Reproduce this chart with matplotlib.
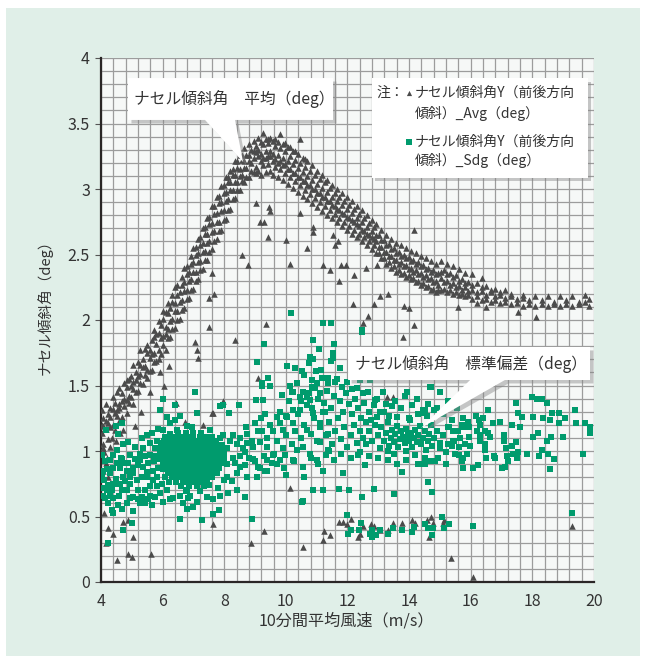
import matplotlib.pyplot as plt
import matplotlib.patches as patches
import matplotlib.patheffects as pe
import numpy as np

plt.rcParams['font.family'] = ['Noto Sans CJK JP', 'DejaVu Sans']

# ---- Avg (triangles): main band, x -> list of y ----
avg_band_x = [4.02, 4.08, 4.15, 4.22, 4.30, 4.38, 4.45, 4.52, 4.60, 4.68, 4.75, 4.83, 4.90, 4.98,
              5.05, 5.12, 5.20, 5.28, 5.35, 5.42, 5.50, 5.58, 5.65, 5.72, 5.80, 5.88, 5.95,
              6.02, 6.10, 6.18, 6.25, 6.32, 6.40, 6.48, 6.55, 6.62, 6.70, 6.78, 6.85, 6.92,
              7.00, 7.08, 7.15, 7.22, 7.30, 7.38, 7.45, 7.52, 7.60, 7.68, 7.75, 7.82, 7.90, 7.98,
              8.05, 8.12, 8.20, 8.28, 8.35, 8.42, 8.50, 8.58, 8.65, 8.72, 8.80, 8.88, 8.95,
              9.02, 9.10, 9.18, 9.26, 9.34, 9.42, 9.50, 9.58, 9.66, 9.74, 9.82, 9.90, 9.98,
              10.06, 10.14, 10.22, 10.30, 10.38, 10.46, 10.54, 10.62, 10.70, 10.78, 10.86, 10.94,
              11.02, 11.10, 11.18, 11.26, 11.34, 11.42, 11.50, 11.58, 11.66, 11.74, 11.82, 11.90, 11.98,
              12.06, 12.14, 12.22, 12.30, 12.38, 12.46, 12.54, 12.62, 12.70, 12.78, 12.86, 12.94,
              13.02, 13.10, 13.18, 13.26, 13.34, 13.42, 13.50, 13.58, 13.66, 13.74, 13.82, 13.90, 13.98,
              14.06, 14.14, 14.22, 14.30, 14.38, 14.46, 14.54, 14.62, 14.70, 14.78, 14.86, 14.94,
              15.02, 15.12, 15.22, 15.32, 15.42, 15.52, 15.62, 15.72, 15.82, 15.92,
              16.05, 16.20, 16.35, 16.50, 16.65, 16.80, 16.95, 17.10, 17.30, 17.50, 17.70, 17.90,
              18.10, 18.30, 18.50, 18.70, 18.90, 19.10, 19.30, 19.50, 19.70, 19.85]
avg_band_y = [
    [1.14, 1.20, 1.31], [1.05, 1.19, 1.25], [1.17, 1.23, 1.36], [1.09, 1.21, 1.28],
    [1.18, 1.26, 1.33], [1.20, 1.32, 1.41], [1.16, 1.29, 1.37], [1.27, 1.31, 1.45],
    [1.23, 1.33, 1.36, 1.48], [1.26, 1.38, 1.44], [1.34, 1.40, 1.52], [1.29, 1.39, 1.49, 1.54],
    [1.37, 1.42, 1.55], [1.41, 1.50, 1.57],
    [1.36, 1.47, 1.53, 1.66], [1.45, 1.54, 1.60], [1.46, 1.57, 1.68], [1.52, 1.59, 1.66, 1.77],
    [1.51, 1.64, 1.70], [1.58, 1.65, 1.78], [1.56, 1.62, 1.75, 1.81], [1.61, 1.71, 1.77],
    [1.62, 1.74, 1.85], [1.68, 1.75, 1.87, 1.92], [1.69, 1.82, 1.89], [1.70, 1.77, 1.90, 1.99],
    [1.74, 1.86, 1.96],
    [1.81, 1.88, 2.01, 2.07], [1.77, 1.89, 1.95, 2.06], [1.86, 1.93, 2.05, 2.13], [1.87, 1.99, 2.09],
    [1.93, 2.01, 2.14, 2.19], [1.94, 2.07, 2.13, 2.25], [2.00, 2.07, 2.19, 2.27], [2.01, 2.14, 2.21],
    [2.08, 2.15, 2.27, 2.33], [2.09, 2.22, 2.29, 2.40], [2.16, 2.23, 2.35, 2.41], [2.17, 2.30, 2.37],
    [2.23, 2.31, 2.43, 2.49],
    [2.24, 2.37, 2.44, 2.55], [2.30, 2.37, 2.50, 2.56], [2.31, 2.44, 2.51, 2.62], [2.38, 2.45, 2.57, 2.63],
    [2.39, 2.52, 2.59, 2.70], [2.46, 2.53, 2.66, 2.71], [2.46, 2.59, 2.66, 2.78], [2.52, 2.60, 2.73, 2.79],
    [2.54, 2.67, 2.74, 2.87], [2.60, 2.68, 2.81, 2.87], [2.62, 2.75, 2.82, 2.94], [2.68, 2.75, 2.89, 2.95],
    [2.69, 2.83, 2.90, 3.02], [2.76, 2.84, 2.97, 3.03],
    [2.77, 2.91, 2.98, 3.09], [2.84, 2.92, 3.05, 3.09], [2.85, 2.99, 3.05, 3.14], [2.92, 2.99, 3.11, 3.15],
    [2.93, 3.05, 3.11, 3.21], [2.99, 3.05, 3.16, 3.21], [2.99, 3.10, 3.15, 3.26], [3.06, 3.11, 3.22, 3.26],
    [3.05, 3.16, 3.21, 3.31], [3.09, 3.16, 3.26], [3.09, 3.21, 3.26, 3.34], [3.14, 3.20, 3.30],
    [3.13, 3.24, 3.29, 3.37],
    [3.12, 3.17, 3.28, 3.33], [3.14, 3.25, 3.30, 3.39], [3.11, 3.21, 3.27, 3.36], [3.18, 3.24, 3.34, 3.43],
    [3.13, 3.24, 3.29, 3.38], [3.19, 3.25, 3.35, 3.38], [3.14, 3.25, 3.29, 3.39], [3.11, 3.21, 3.27, 3.37],
    [3.17, 3.23, 3.33, 3.38], [3.09, 3.20, 3.26, 3.36], [3.15, 3.21, 3.31, 3.42], [3.07, 3.18, 3.24, 3.34],
    [3.12, 3.19, 3.29, 3.35],
    [3.04, 3.15, 3.21, 3.32], [3.09, 3.15, 3.25, 3.32], [3.01, 3.12, 3.19, 3.29], [3.06, 3.12, 3.22, 3.29],
    [2.98, 3.09, 3.16, 3.27], [3.03, 3.09, 3.20, 3.38], [2.95, 3.06, 3.13, 3.24], [2.99, 3.06, 3.17, 3.23],
    [2.92, 3.03, 3.10, 3.21], [2.96, 3.03, 3.14], [2.89, 3.00, 3.07, 3.18], [2.93, 3.00, 3.11],
    [2.86, 2.97, 3.04, 3.14], [2.90, 2.97, 3.08], [2.83, 2.94, 3.01, 3.11], [2.87, 2.94, 3.05],
    [2.80, 2.91, 2.98, 3.07], [2.84, 2.91, 3.01], [2.78, 2.88, 2.94, 3.03], [2.81, 2.87, 2.97],
    [2.75, 2.85, 2.91, 3.00], [2.78, 2.84, 2.94], [2.72, 2.82, 2.88, 2.97], [2.75, 2.81, 2.91],
    [2.69, 2.79, 2.85, 2.94],
    [2.72, 2.78, 2.88], [2.66, 2.76, 2.82, 2.91], [2.69, 2.75, 2.85], [2.63, 2.73, 2.78, 2.87],
    [2.66, 2.72, 2.81], [2.60, 2.69, 2.75, 2.84], [2.63, 2.68, 2.78], [2.57, 2.66, 2.71, 2.80],
    [2.60, 2.65, 2.74], [2.54, 2.63, 2.68, 2.76], [2.57, 2.62, 2.71], [2.51, 2.60, 2.65, 2.73],
    [2.51, 2.56, 2.65], [2.47, 2.56, 2.61, 2.69], [2.47, 2.52, 2.61], [2.43, 2.52, 2.57, 2.65],
    [2.44, 2.49, 2.58], [2.40, 2.49, 2.54, 2.62], [2.41, 2.46, 2.55], [2.37, 2.46, 2.51, 2.59],
    [2.38, 2.43, 2.52], [2.35, 2.44, 2.49, 2.57], [2.36, 2.41, 2.50], [2.33, 2.42, 2.47, 2.55],
    [2.34, 2.39, 2.48],
    [2.31, 2.40, 2.45, 2.53], [2.32, 2.37, 2.46], [2.29, 2.38, 2.43, 2.51], [2.30, 2.35, 2.44],
    [2.27, 2.36, 2.41, 2.49], [2.28, 2.33, 2.42], [2.25, 2.34, 2.39, 2.47], [2.26, 2.31, 2.40],
    [2.23, 2.32, 2.37, 2.45], [2.24, 2.29, 2.38], [2.21, 2.30, 2.35, 2.43], [2.23, 2.27, 2.36],
    [2.23, 2.32, 2.37, 2.45], [2.24, 2.29, 2.38], [2.21, 2.30, 2.35, 2.43], [2.23, 2.27, 2.36],
    [2.20, 2.28, 2.33, 2.41], [2.21, 2.25, 2.34], [2.19, 2.26, 2.30, 2.39], [2.20, 2.23, 2.31],
    [2.18, 2.25, 2.28, 2.36], [2.19, 2.22, 2.29],
    [2.16, 2.23, 2.27, 2.35], [2.18, 2.21, 2.28], [2.15, 2.22, 2.25, 2.32], [2.16, 2.19, 2.26],
    [2.14, 2.21, 2.23], [2.15, 2.18, 2.24], [2.13, 2.19, 2.21], [2.14, 2.17, 2.23],
    [2.12, 2.18, 2.20], [2.13, 2.16], [2.11, 2.17, 2.19], [2.12, 2.15],
    [2.11, 2.18], [2.12, 2.15], [2.11, 2.18], [2.12, 2.14], [2.11, 2.18], [2.12, 2.15],
    [2.11, 2.18], [2.12, 2.14], [2.14, 2.19], [2.11, 2.16]]

# ---- Avg outliers (x, y) ----
avg_scatter = [(9.16, 2.75), (9.29, 2.75), (9.42, 2.63), (10.0, 2.61), (8.58, 2.50), (8.77, 2.42),
               (10.13, 2.43), (10.69, 2.55), (11.2, 2.42), (11.43, 2.38), (11.72, 2.30), (11.8, 2.42),
               (11.95, 2.42), (12.2, 2.34), (12.6, 2.40), (12.96, 2.42), (13.05, 2.18), (13.3, 2.20),
               (9.45, 2.86), (9.49, 2.83), (10.46, 2.82), (10.88, 2.71), (10.88, 2.67), (11.53, 2.65),
               (11.6, 2.57), (11.69, 2.60), (9.03, 2.89), (7.5, 1.95), (7.67, 2.20), (7.5, 2.17),
               (7.6, 2.36), (7.05, 1.83), (7.12, 1.77), (7.15, 1.71), (8.35, 1.85), (9.36, 1.97),
               (9.1, 1.56), (7.6, 1.29), (12.18, 2.12), (12.86, 2.12), (13.83, 2.11), (14.0, 2.09),
               (12.67, 2.03), (12.5, 1.98), (14.16, 1.96), (13.8, 1.87), (12.76, 1.76), (13.28, 1.41),
               (13.48, 1.41), (10.13, 0.72), (14.16, 2.69), (15.59, 2.10), (16.5, 2.10), (17.53, 2.06),
               (18.12, 2.02), (16.2, 2.13), (7.96, 1.38), (6.43, 1.37), (6.73, 1.22), (7.63, 1.29),
               (7.3, 1.20), (5.3, 1.30), (5.6, 1.45), (5.9, 1.60), (6.2, 1.65), (6.05, 1.50)]
avg_left = [(4.1, 0.99), (4.2, 0.95), (4.3, 1.03), (4.15, 0.91), (4.22, 0.80), (4.62, 1.14),
            (4.71, 1.16), (5.1, 1.19), (4.05, 0.85), (4.35, 1.10), (4.5, 1.08), (4.06, 1.02)]
avg_low = [(10.55, 0.27), (11.2, 0.32), (11.24, 0.39), (11.43, 0.36), (11.72, 0.46), (11.85, 0.46),
           (11.98, 0.44), (12.1, 0.48), (12.35, 0.34), (12.4, 0.37), (12.5, 0.43), (12.76, 0.44),
           (12.86, 0.43), (13.06, 0.40), (13.3, 0.40), (13.48, 0.45), (13.77, 0.45), (14.1, 0.47),
           (14.2, 0.45), (14.58, 0.47), (14.7, 0.50), (14.77, 0.45), (14.65, 0.34), (15.1, 0.45),
           (15.13, 0.47), (15.36, 0.18), (16.07, 0.04), (19.29, 0.43), (4.1, 0.53), (4.16, 0.30),
           (4.23, 0.41), (4.39, 0.37), (4.52, 0.17), (4.71, 0.46), (4.88, 0.47), (4.88, 0.21),
           (5.0, 0.19), (5.04, 0.34), (5.62, 0.21), (7.64, 0.44), (9.29, 0.39), (8.87, 0.30)]

# ---- Sdg (squares): dense core rows, y -> list of x ----
sdg_core_y = [1.14, 1.11, 1.08, 1.045, 1.01, 0.975, 0.94, 0.905, 0.87, 0.835, 0.80, 0.765, 0.73, 0.695]
sdg_core_x = [
    [6.5, 6.75, 7.0, 7.25],
    [6.2, 6.4, 6.6, 6.8, 7.0, 7.2, 7.4, 7.6],
    [6.05, 6.2, 6.35, 6.5, 6.65, 6.8, 6.95, 7.1, 7.25, 7.4, 7.55, 7.72],
    [5.95, 6.1, 6.25, 6.4, 6.55, 6.7, 6.85, 7.0, 7.15, 7.3, 7.45, 7.6, 7.75, 7.92],
    [5.9, 6.08, 6.22, 6.36, 6.5, 6.64, 6.78, 6.92, 7.06, 7.2, 7.34, 7.48, 7.62, 7.78, 7.95],
    [5.95, 6.12, 6.26, 6.4, 6.54, 6.68, 6.82, 6.96, 7.1, 7.24, 7.38, 7.52, 7.66, 7.82, 8.0],
    [5.92, 6.1, 6.24, 6.38, 6.52, 6.66, 6.8, 6.94, 7.08, 7.22, 7.36, 7.5, 7.64, 7.8, 7.98],
    [6.0, 6.16, 6.3, 6.44, 6.58, 6.72, 6.86, 7.0, 7.14, 7.28, 7.42, 7.56, 7.72, 7.9],
    [6.08, 6.24, 6.38, 6.52, 6.66, 6.8, 6.94, 7.08, 7.22, 7.36, 7.5, 7.66, 7.84],
    [6.18, 6.34, 6.48, 6.62, 6.76, 6.9, 7.04, 7.18, 7.32, 7.46, 7.62, 7.78],
    [6.3, 6.46, 6.62, 6.78, 6.94, 7.1, 7.26, 7.42, 7.6],
    [6.45, 6.65, 6.85, 7.05, 7.25, 7.45],
    [6.6, 6.85, 7.1, 7.35],
    [6.75, 7.2]]

sdg_left = [(4.13, 0.92), (4.10, 0.78), (4.18, 0.70), (4.29, 0.66), (4.13, 0.64), (4.24, 0.60),
            (4.40, 0.64), (4.56, 0.59), (4.35, 0.55), (4.51, 0.75), (4.67, 0.70), (4.78, 0.77),
            (4.94, 0.80), (4.83, 0.85), (4.62, 0.87), (4.40, 0.87), (5.05, 0.87), (5.27, 0.93),
            (5.43, 0.96), (5.59, 0.97), (4.83, 0.70), (4.94, 0.64), (5.21, 0.63), (5.32, 0.65),
            (5.54, 0.63), (5.59, 0.66), (5.43, 0.70), (5.21, 0.70), (5.05, 0.65), (4.64, 0.95),
            (4.53, 1.01), (4.40, 0.97), (4.72, 1.05), (4.89, 1.07), (5.10, 1.03), (5.32, 1.10),
            (5.48, 1.12), (5.64, 1.14), (5.86, 1.17), (6.02, 1.16), (6.24, 1.21), (6.13, 1.26),
            (6.40, 1.24), (6.56, 1.27), (4.67, 1.21), (4.49, 1.19), (4.56, 1.13), (5.37, 1.02),
            (5.75, 1.02), (4.29, 0.83), (4.08, 0.85), (4.49, 0.79), (4.94, 0.75), (5.16, 0.78),
            (5.32, 0.80), (5.48, 0.80), (5.59, 0.73), (5.81, 0.73), (5.81, 0.80), (5.97, 0.75),
            (5.86, 0.87), (6.08, 0.80), (4.67, 0.94), (5.10, 0.94), (4.16, 1.16), (4.40, 0.75),
            (4.10, 0.72), (4.24, 0.74), (4.83, 0.60), (4.67, 0.56), (5.27, 0.60), (5.43, 0.60),
            (5.75, 0.65), (5.64, 0.59), (5.92, 0.68), (6.13, 0.70), (6.35, 0.64), (6.56, 0.66),
            (6.78, 0.70), (4.72, 0.91), (4.89, 0.91), (5.21, 0.89), (5.37, 0.88), (5.54, 0.91),
            (4.51, 0.91), (4.29, 0.93), (4.94, 0.97), (5.27, 0.98), (5.05, 0.83), (4.72, 0.80),
            (5.48, 0.84), (5.70, 0.85), (4.62, 0.75), (5.59, 1.06), (5.81, 1.08), (5.97, 1.06),
            (6.08, 1.11), (6.24, 1.13), (6.46, 1.16), (6.78, 1.19), (7.0, 1.13), (7.11, 1.29),
            (7.05, 1.45), (6.02, 1.40), (6.40, 1.35), (5.92, 1.31), (4.04, 0.97), (4.04, 0.82),
            (4.05, 0.66), (4.2, 0.86), (4.35, 0.70), (4.58, 0.66), (5.72, 0.92), (5.68, 0.78),
            (5.8, 0.96), (7.55, 1.16), (7.85, 1.1), (8.08, 0.9), (8.1, 1.02), (7.98, 0.78),
            (7.8, 0.72), (6.95, 1.18), (6.2, 0.76), (6.0, 0.86), (7.52, 0.74), (6.88, 0.66)]

sdg_mid = [(7.86, 1.34), (7.97, 1.35), (8.49, 1.35), (8.17, 1.29), (7.97, 1.12), (8.3, 1.12),
           (8.51, 1.10), (8.73, 1.06), (8.94, 1.03), (9.16, 1.07), (9.38, 1.03), (8.73, 1.13),
           (8.99, 1.21), (9.32, 1.28), (9.70, 1.26), (9.81, 1.21), (10.03, 1.26), (9.92, 1.16),
           (9.59, 1.15), (9.22, 1.15), (8.67, 0.99), (8.94, 0.94), (8.51, 0.96), (8.35, 0.91),
           (8.67, 0.89), (8.40, 0.83), (8.73, 0.80), (9.05, 0.80), (9.16, 0.87), (9.38, 0.93),
           (9.59, 0.97), (9.32, 0.85), (9.54, 0.91), (9.81, 0.93), (9.97, 0.97), (10.24, 0.93),
           (10.35, 1.01), (10.57, 1.03), (10.78, 0.98), (11.0, 0.93), (8.40, 0.70), (8.13, 0.68),
           (8.24, 0.77), (8.08, 0.80), (8.67, 0.65), (11.11, 1.44), (10.78, 1.39), (10.46, 1.41),
           (10.24, 1.45), (9.86, 1.43), (9.22, 1.50), (9.49, 1.50), (10.14, 1.50), (10.84, 1.49),
           (11.38, 1.52), (10.89, 1.29), (10.46, 1.31), (10.24, 1.21), (10.68, 1.16), (11.11, 1.21),
           (11.27, 1.30), (11.38, 1.13), (11.38, 1.01), (11.11, 1.07),
           (12.5, 1.10), (12.6, 1.05), (12.7, 1.15), (12.8, 1.08), (12.9, 1.20), (13.0, 1.12),
           (13.05, 1.02), (13.1, 1.18), (13.2, 1.08), (13.25, 1.14), (13.3, 1.22), (13.35, 1.04),
           (13.4, 1.10), (13.45, 1.16), (13.5, 1.07), (13.55, 1.13), (13.6, 1.19), (13.65, 1.03),
           (13.7, 1.09), (13.75, 1.15), (13.8, 1.11), (13.85, 1.06), (13.9, 1.17), (13.95, 1.12),
           (14.0, 1.08), (14.05, 1.14), (14.1, 1.03), (14.15, 1.10), (14.2, 1.16), (14.25, 1.07),
           (14.3, 1.12), (14.35, 1.19), (14.4, 1.05), (14.45, 1.10), (14.5, 1.15), (14.55, 1.01),
           (14.6, 1.08), (14.65, 1.13), (14.7, 1.20), (14.75, 1.04), (14.8, 1.10), (14.9, 1.15),
           (15.0, 1.06), (15.1, 1.12), (15.2, 0.99), (13.3, 1.00), (13.5, 0.98), (13.9, 1.00),
           (14.2, 0.97), (14.5, 0.95), (13.6, 1.26), (14.0, 1.25), (14.3, 1.28), (13.2, 1.30),
           (12.95, 1.26), (12.7, 1.30), (12.6, 1.22), (12.4, 1.15), (12.3, 1.06), (12.2, 1.20),
           (12.1, 1.12), (12.0, 1.03), (11.9, 1.18), (11.8, 1.09), (11.7, 1.25), (11.6, 1.15),
           (11.5, 1.05), (11.4, 1.22), (11.3, 1.12), (11.2, 1.30), (11.1, 1.18), (11.0, 1.08),
           (10.9, 1.25), (10.8, 1.13), (10.7, 1.35), (10.6, 1.20), (10.5, 1.10), (10.4, 1.28),
           (10.3, 1.15), (10.2, 1.05), (10.1, 1.38), (10.0, 1.12), (9.9, 1.02), (9.8, 1.30),
           (9.7, 1.08), (9.6, 0.98), (9.5, 1.20), (9.4, 1.10), (9.3, 0.96), (9.2, 1.25),
           (9.1, 1.15), (9.0, 0.92), (8.9, 1.08), (8.8, 0.95), (8.7, 1.18), (8.6, 1.02),
           (8.5, 0.88), (8.4, 1.05), (8.3, 0.95), (8.2, 1.08),
           (9.1, 0.88), (9.4, 0.85), (9.7, 0.90), (9.95, 0.87), (10.25, 0.92), (10.55, 0.88),
           (10.8, 0.95), (11.05, 0.90), (11.3, 0.97), (11.55, 0.93), (11.8, 0.98), (12.1, 0.95),
           (12.4, 0.99), (12.7, 0.96), (13.0, 0.95), (13.3, 0.93), (13.6, 0.90), (13.9, 0.93),
           (14.3, 0.90), (14.7, 0.92), (10.0, 0.82), (10.6, 0.80), (11.2, 0.85), (11.85, 0.83),
           (12.34, 0.97), (12.57, 0.89), (13.77, 0.84), (14.45, 0.90), (11.4, 1.00)]

sdg_upper = [(10.17, 2.05), (11.2, 1.98), (11.47, 1.98), (10.88, 1.85), (11.56, 1.82), (12.47, 1.92),
             (9.29, 1.82), (9.06, 1.68), (11.08, 1.78), (11.53, 1.75), (11.53, 1.71), (10.78, 1.72),
             (10.88, 1.70), (10.75, 1.67), (10.04, 1.65), (10.3, 1.63), (10.52, 1.61), (10.98, 1.61),
             (11.47, 1.69), (11.76, 1.63), (12.18, 1.60), (12.63, 1.69), (13.09, 1.57), (12.73, 1.54),
             (12.41, 1.54), (9.42, 1.56), (9.23, 1.52), (9.49, 1.50), (9.88, 1.43), (9.03, 1.39),
             (9.26, 1.39), (10.0, 1.27), (10.23, 1.31), (10.56, 1.45), (10.69, 1.41), (10.85, 1.54),
             (11.01, 1.52), (11.17, 1.56), (11.37, 1.56), (11.6, 1.53), (11.82, 1.49), (11.98, 1.53),
             (12.15, 1.47), (12.31, 1.48), (12.5, 1.44), (12.89, 1.39), (13.45, 1.34), (13.93, 1.45),
             (13.6, 1.26), (14.45, 1.31), (14.58, 1.27), (14.03, 1.24), (12.46, 1.91), (12.68, 1.68),
             (10.2, 1.45), (10.35, 1.52), (10.5, 1.38), (10.6, 1.58), (10.75, 1.44), (10.85, 1.33),
             (10.95, 1.48), (11.05, 1.40), (11.15, 1.62), (11.25, 1.37), (11.35, 1.46), (11.45, 1.33),
             (11.55, 1.42), (11.65, 1.55), (11.75, 1.38), (11.85, 1.30), (11.95, 1.44), (12.05, 1.36),
             (12.15, 1.28), (12.25, 1.40), (12.35, 1.33), (12.45, 1.25), (12.55, 1.37), (12.65, 1.45),
             (12.75, 1.24), (12.85, 1.35), (12.95, 1.40), (13.05, 1.30), (13.15, 1.45), (13.25, 1.36),
             (13.35, 1.27), (13.55, 1.38), (13.75, 1.33), (13.85, 1.42), (14.1, 1.35), (14.25, 1.40),
             (14.6, 1.36), (14.9, 1.33), (15.1, 1.28), (15.25, 1.38), (15.4, 1.24), (15.55, 1.33),
             (15.7, 1.20), (14.7, 1.49), (15.0, 1.45)]

sdg_right = [(17.99, 1.41), (18.15, 1.40), (18.31, 1.40), (18.47, 1.37), (17.47, 1.37), (19.38, 1.31),
             (19.87, 1.18), (19.87, 1.14), (19.71, 1.21), (19.42, 1.21), (19.0, 1.11), (19.64, 0.98),
             (18.57, 0.86), (18.7, 0.94), (18.5, 0.98), (18.2, 0.96), (18.31, 1.01), (18.47, 1.08),
             (18.6, 1.11), (18.18, 1.14), (18.02, 1.11), (18.87, 1.21), (18.87, 1.29), (19.06, 1.25),
             (18.64, 1.29), (18.57, 1.24), (18.35, 1.25), (18.02, 1.26), (17.6, 1.18), (17.66, 1.26),
             (17.53, 1.29), (17.34, 1.20), (17.83, 0.98), (17.5, 0.95), (17.37, 0.98), (17.53, 0.99),
             (17.34, 1.04), (17.47, 1.07), (17.08, 1.12), (17.08, 1.08), (17.15, 1.02), (17.18, 0.96),
             (17.21, 0.92), (17.02, 0.87), (17.11, 0.88), (16.76, 0.96), (16.95, 1.22), (16.72, 1.21),
             (16.56, 1.31), (16.17, 1.27), (16.27, 1.24), (16.4, 1.25), (16.3, 1.20), (15.94, 1.18),
             (16.2, 1.15), (16.3, 1.12), (16.46, 1.15), (16.56, 1.14), (16.62, 1.11), (16.3, 1.08),
             (16.46, 1.05), (16.46, 1.01), (16.5, 0.95), (16.79, 0.95), (15.75, 1.25), (15.75, 1.18),
             (15.94, 1.11), (15.98, 1.04), (15.88, 0.98), (15.75, 0.95), (15.75, 0.87), (16.07, 0.87),
             (16.24, 0.89), (15.65, 1.10), (15.62, 1.03), (15.62, 0.97), (15.42, 1.08), (15.42, 1.15),
             (15.39, 1.04), (15.26, 1.18), (15.26, 1.05), (15.0, 1.02), (14.94, 0.95), (14.84, 0.92),
             (14.52, 0.90), (14.61, 0.76), (14.74, 0.69), (14.45, 1.29), (14.52, 1.31), (14.81, 1.31),
             (14.68, 1.49), (15.3, 1.18), (15.45, 1.08), (15.6, 1.15), (15.8, 1.05), (15.9, 1.22),
             (15.5, 0.98), (15.2, 0.90), (15.7, 0.92)]

sdg_low = [(6.56, 0.48), (7.27, 0.47), (7.62, 0.52), (7.84, 0.55), (6.65, 0.60), (6.83, 0.64),
           (7.0, 0.57), (6.78, 0.56), (7.11, 0.61), (7.43, 0.65), (7.65, 0.63), (7.86, 0.66),
           (6.02, 0.61), (6.24, 0.63), (5.05, 0.54), (5.0, 0.45), (4.72, 0.40), (4.24, 0.30),
           (8.89, 0.48), (10.51, 0.61), (10.89, 0.70), (11.2, 0.70), (11.72, 0.71), (12.05, 0.70),
           (12.47, 0.65), (12.86, 0.71), (13.51, 0.67), (14.61, 0.76), (14.74, 0.69), (10.56, 0.62),
           (11.98, 0.51), (12.02, 0.37), (12.1, 0.40), (12.44, 0.45), (12.38, 0.40), (12.73, 0.37),
           (12.8, 0.34), (12.93, 0.36), (12.8, 0.40), (13.06, 0.40), (13.32, 0.37), (13.48, 0.41),
           (13.77, 0.40), (14.1, 0.38), (14.16, 0.42), (14.52, 0.44), (14.61, 0.41), (14.77, 0.41),
           (14.74, 0.36), (15.07, 0.50), (15.13, 0.41), (15.3, 0.44), (16.07, 0.43), (19.29, 0.53),
           (11.85, 0.83), (13.77, 0.84), (12.57, 0.89), (4.39, 0.53)]

# 展開
avg_x = [x for x, ys in zip(avg_band_x, avg_band_y) for _ in ys]
avg_y = [y for ys in avg_band_y for y in ys]
for pts in (avg_scatter, avg_left, avg_low):
    avg_x += [p[0] for p in pts]
    avg_y += [p[1] for p in pts]

sdg_x = [x for xs in sdg_core_x for x in xs]
sdg_y = [y for y, xs in zip(sdg_core_y, sdg_core_x) for _ in xs]
for pts in (sdg_left, sdg_mid, sdg_upper, sdg_right, sdg_low):
    sdg_x += [p[0] for p in pts]
    sdg_y += [p[1] for p in pts]

tri_color = '#4b4b4b'
sq_color = '#009b6d'

fig = plt.figure(figsize=(6.46, 6.62), dpi=100)
fig.patch.set_facecolor('white')
fig.patches.append(patches.Rectangle((6 / 646, 6 / 662), 634 / 646, 648 / 662,
                                     transform=fig.transFigure, facecolor='#e0efe8',
                                     edgecolor='none', zorder=-10))

ax = fig.add_axes([101 / 646, 1 - 582 / 662, 493 / 646, 524 / 662])
ax.set_facecolor('#f6f8f7')
ax.set_xlim(4, 20)
ax.set_ylim(0, 4)
ax.set_xticks(np.arange(4, 21, 2))
ax.set_xticks(np.arange(4, 20.01, 0.4), minor=True)
ax.set_yticks(np.arange(0, 4.01, 0.5))
ax.set_yticks(np.arange(0, 4.01, 0.1), minor=True)
ax.set_yticklabels(['0', '0.5', '1', '1.5', '2', '2.5', '3', '3.5', '4'])
ax.grid(which='both', color='#9c9c9c', linewidth=0.9)
ax.set_axisbelow(True)
for s in ['top', 'right']:
    ax.spines[s].set_visible(False)
for s in ['left', 'bottom']:
    ax.spines[s].set_color('#2a2626')
    ax.spines[s].set_linewidth(1.6)
ax.tick_params(axis='x', which='both', length=0, pad=8, labelsize=11.5, labelcolor='#333333')
ax.tick_params(axis='y', which='major', length=4, width=0.8, color='#555555', pad=4,
               labelsize=11.5, labelcolor='#333333')
ax.tick_params(axis='y', which='minor', length=0)

ax.scatter(avg_x, avg_y, marker='^', s=22, color=tri_color, linewidths=0, zorder=3)
ax.scatter(sdg_x, sdg_y, marker='s', s=15, color=sq_color, linewidths=0, zorder=4)

fig.text(346 / 646, 1 - 621 / 662, '10分間平均風速（m/s）', ha='center', va='center',
         fontsize=11.6, color='#333333')
fig.text(45 / 646, 1 - 304 / 662, 'ナセル傾斜角（deg）', ha='center', va='center',
         rotation=90, fontsize=10.5, color='#333333')

shadow = [pe.SimplePatchShadow(offset=(2.5, -2.5), shadow_rgbFace='#888888', alpha=0.45), pe.Normal()]

# 吹き出し1
call1 = [(4.876, 3.847), (11.53, 3.847), (11.53, 3.527), (8.35, 3.527), (8.61, 3.206),
         (7.376, 3.527), (4.876, 3.527)]
ax.add_patch(patches.Polygon(call1, closed=True, facecolor='white', edgecolor='none',
                             zorder=6, clip_on=False, path_effects=shadow))
ax.text(5.07, 3.69, 'ナセル傾斜角　平均（deg）', fontsize=11.3, color='#333333',
        va='center', ha='left', zorder=7)

# 吹き出し2
call2 = [(12.02, 1.794), (19.87, 1.794), (19.87, 1.542), (17.11, 1.542), (14.386, 1.176),
         (15.98, 1.542), (12.02, 1.542)]
ax.add_patch(patches.Polygon(call2, closed=True, facecolor='white', edgecolor='none',
                             zorder=6, clip_on=False, path_effects=shadow))
ax.text(12.24, 1.664, 'ナセル傾斜角　標準偏差（deg）', fontsize=11.3, color='#333333',
        va='center', ha='left', zorder=7)

# 凡例
ax.add_patch(patches.Rectangle((12.796, 3.084), 7.01, 0.763, facecolor='white', edgecolor='none',
                               zorder=6, path_effects=shadow))
ax.text(12.93, 3.733, '注：', fontsize=10, color='#333333', va='center', ha='left', zorder=7)
ax.scatter([14.0], [3.733], marker='^', s=14, color=tri_color, linewidths=0, zorder=7)
ax.text(14.17, 3.733, 'ナセル傾斜角Y（前後方向', fontsize=10, color='#333333', va='center', zorder=7)
ax.text(14.17, 3.58, '傾斜）_Avg（deg）', fontsize=10, color='#333333', va='center', zorder=7)
ax.scatter([14.0], [3.359], marker='s', s=14, color=sq_color, linewidths=0, zorder=7)
ax.text(14.17, 3.359, 'ナセル傾斜角Y（前後方向', fontsize=10, color='#333333', va='center', zorder=7)
ax.text(14.17, 3.221, '傾斜）_Sdg（deg）', fontsize=10, color='#333333', va='center', zorder=7)

fig.savefig('out.png', dpi=100)
